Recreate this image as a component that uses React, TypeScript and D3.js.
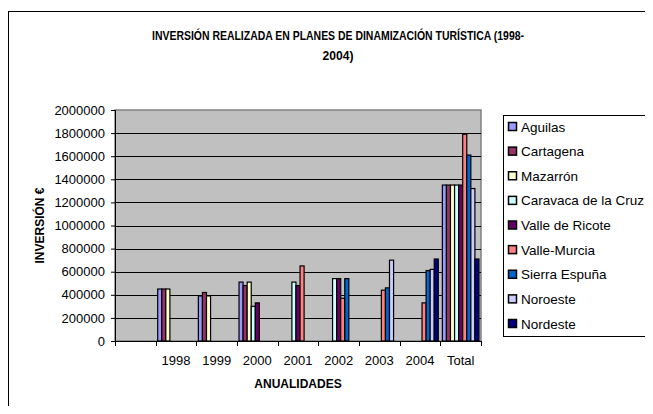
import React, { useEffect, useRef } from "react";
import * as d3 from "d3";

const categories = ["", "1998", "1999", "2000", "2001", "2002", "2003", "2004", "Total"];
const seriesNames = [
  "Aguilas",
  "Cartagena",
  "Mazarrón",
  "Caravaca de la Cruz",
  "Valle de Ricote",
  "Valle-Murcia",
  "Sierra Espuña",
  "Noroeste",
  "Nordeste",
];
const seriesColors = ["#9999FF", "#993366", "#FFFFCC", "#CCFFFF", "#660066", "#FF8080", "#0066CC", "#CCCCFF", "#000080"];

// one array per series, null = no bar
const aguilas = [null, 450000, 390000, 510000, null, null, null, null, 1350000];
const cartagena = [null, 450000, 420000, 480000, null, null, null, null, 1350000];
const mazarron = [null, 450000, 390000, 510000, null, null, null, null, 1350000];
const caravaca = [null, null, null, 300000, 510000, 540000, null, null, 1350000];
const valleRicote = [null, null, null, 330000, 480000, 540000, null, null, 1350000];
const valleMurcia = [null, null, null, null, 650000, 370000, 440000, 330000, 1790000];
const sierraEspuna = [null, null, null, null, null, 540000, 460000, 610000, 1610000];
const noroeste = [null, null, null, null, null, null, 700000, 620000, 1320000];
const nordeste = [null, null, null, null, null, null, null, 710000, 710000];
const seriesValues = [aguilas, cartagena, mazarron, caravaca, valleRicote, valleMurcia, sierraEspuna, noroeste, nordeste];

const yTicks = [0, 200000, 400000, 600000, 800000, 1000000, 1200000, 1400000, 1600000, 1800000, 2000000];

const W = 653;
const H = 414;
const plot = { left: 115, right: 481, top: 110, bottom: 341 };
const legendBox = { x: 503, y: 115, w: 149, h: 221 };

export default function App() {
  const ref = useRef<SVGSVGElement | null>(null);

  useEffect(() => {
    if (!ref.current) return;
    const svg = d3.select(ref.current);
    svg.selectAll("*").remove();
    const font = "'Liberation Sans', Arial, sans-serif";

    svg.append("rect").attr("x", 0).attr("y", 0).attr("width", W).attr("height", H).attr("fill", "#fff");
    svg
      .append("rect")
      .attr("x", 8.5)
      .attr("y", 11.5)
      .attr("width", W + 10)
      .attr("height", H + 10)
      .attr("fill", "#fff")
      .attr("stroke", "#000");

    const x0 = d3.scaleBand<string>().domain(categories).range([plot.left, plot.right]).paddingInner(0.1).paddingOuter(0.05);
    const x1 = d3.scaleBand<number>().domain(d3.range(seriesNames.length)).range([0, x0.bandwidth()]);
    const y = d3.scaleLinear().domain([0, 2000000]).range([plot.bottom, plot.top]);

    // plot area
    svg
      .append("rect")
      .attr("x", plot.left)
      .attr("y", plot.top)
      .attr("width", plot.right - plot.left)
      .attr("height", plot.bottom - plot.top)
      .attr("fill", "#C0C0C0")
      .attr("stroke", "#808080")
      .attr("stroke-width", 1.5);

    svg
      .append("g")
      .selectAll("line")
      .data(yTicks.slice(1, -1))
      .enter()
      .append("line")
      .attr("x1", plot.left)
      .attr("x2", plot.right)
      .attr("y1", (d) => Math.round(y(d)) + 0.5)
      .attr("y2", (d) => Math.round(y(d)) + 0.5)
      .attr("stroke", "#000");

    // bars
    const groups = svg
      .append("g")
      .selectAll("g")
      .data(seriesValues)
      .enter()
      .append("g")
      .attr("fill", (_, i) => seriesColors[i]);
    groups.each(function (vals, si) {
      d3.select(this)
        .selectAll("rect")
        .data(vals.map((v, ci) => ({ v, c: categories[ci] })).filter((d) => d.v !== null))
        .enter()
        .append("rect")
        .attr("x", (d) => (x0(d.c) as number) + (x1(si) as number))
        .attr("y", (d) => y(d.v as number))
        .attr("width", x1.bandwidth())
        .attr("height", (d) => plot.bottom - y(d.v as number))
        .attr("stroke", "#000")
        .attr("stroke-width", 1.2);
    });

    // axes
    const yAxis = d3
      .axisLeft(y)
      .tickValues(yTicks)
      .tickSize(4)
      .tickPadding(6)
      .tickFormat((d) => String(d));
    const gy = svg.append("g").attr("transform", `translate(${plot.left},0)`).call(yAxis);
    gy.select(".domain").attr("stroke", "#000");
    gy.selectAll("text").attr("font-family", font).attr("font-size", 13).attr("fill", "#000");

    const tickPos = categories.map((c) => (x0(c) as number) - (x0.step() * x0.paddingInner()) / 2).concat([plot.right]);
    const gx = svg.append("g");
    gx.append("line")
      .attr("x1", plot.left)
      .attr("x2", plot.right)
      .attr("y1", plot.bottom + 0.5)
      .attr("y2", plot.bottom + 0.5)
      .attr("stroke", "#000");
    gx.selectAll("line.t")
      .data(tickPos)
      .enter()
      .append("line")
      .attr("class", "t")
      .attr("x1", (d) => Math.round(d) + 0.5)
      .attr("x2", (d) => Math.round(d) + 0.5)
      .attr("y1", plot.bottom)
      .attr("y2", plot.bottom + 5)
      .attr("stroke", "#000");
    gx.selectAll("text")
      .data(categories)
      .enter()
      .append("text")
      .attr("x", (c) => (x0(c) as number) + x0.bandwidth() / 2)
      .attr("y", plot.bottom + 24)
      .attr("text-anchor", "middle")
      .attr("font-family", font)
      .attr("font-size", 13)
      .text((c) => c);

    // titles
    const title = svg.append("text").attr("text-anchor", "middle").attr("font-family", font).attr("font-size", 12.5).attr("font-weight", "bold");
    title
      .append("tspan")
      .attr("x", 338)
      .attr("y", 40)
      .attr("textLength", 372)
      .attr("lengthAdjust", "spacingAndGlyphs")
      .text("INVERSIÓN REALIZADA EN PLANES DE DINAMIZACIÓN TURÍSTICA (1998-");
    title
      .append("tspan")
      .attr("x", 338)
      .attr("y", 60)
      .attr("textLength", 31)
      .attr("lengthAdjust", "spacingAndGlyphs")
      .text("2004)");

    svg
      .append("text")
      .attr("x", (plot.left + plot.right) / 2)
      .attr("y", 388)
      .attr("text-anchor", "middle")
      .attr("font-family", font)
      .attr("font-size", 12)
      .attr("font-weight", "bold")
      .text("ANUALIDADES");

    svg
      .append("text")
      .attr("transform", `translate(44,${(plot.top + plot.bottom) / 2}) rotate(-90)`)
      .attr("text-anchor", "middle")
      .attr("font-family", font)
      .attr("font-size", 12)
      .attr("font-weight", "bold")
      .text("INVERSIÓN €");

    // legend
    const lg = svg.append("g");
    lg.append("rect")
      .attr("x", legendBox.x + 0.5)
      .attr("y", legendBox.y + 0.5)
      .attr("width", legendBox.w)
      .attr("height", legendBox.h)
      .attr("fill", "#fff")
      .attr("stroke", "#000");
    const ly = d3.scalePoint<string>().domain(seriesNames).range([legendBox.y + 12, legendBox.y + legendBox.h - 12]);
    const items = lg
      .selectAll("g")
      .data(seriesNames)
      .enter()
      .append("g")
      .attr("transform", (d) => `translate(${legendBox.x + 5},${ly(d)})`);
    items
      .append("rect")
      .attr("x", 0.5)
      .attr("y", -4.5)
      .attr("width", 8)
      .attr("height", 8)
      .attr("fill", (_, i) => seriesColors[i])
      .attr("stroke", "#000")
      .attr("stroke-width", 1.5);
    items
      .append("text")
      .attr("x", 13)
      .attr("y", 4.5)
      .attr("font-family", font)
      .attr("font-size", 13.5)
      .text((d) => d);
  }, []);

  return (
    <div style={{ margin: -8, width: W, height: H, overflow: "hidden" }}>
      <svg ref={ref} width={W} height={H} style={{ display: "block" }} />
    </div>
  );
}
